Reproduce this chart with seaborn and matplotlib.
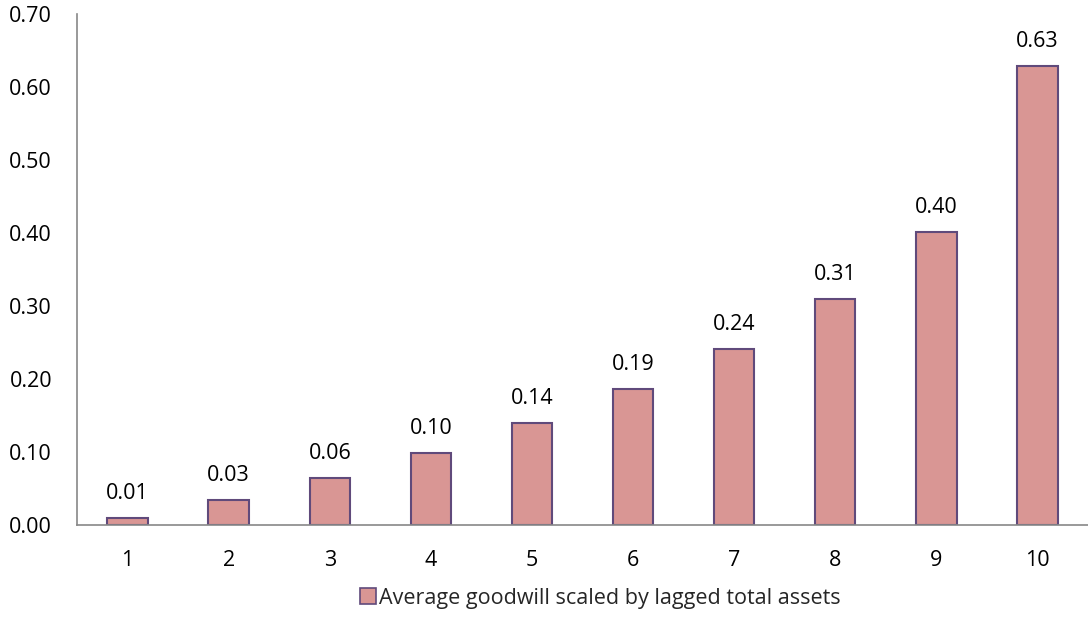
import matplotlib
matplotlib.use("Agg")
import matplotlib.pyplot as plt
import seaborn as sns
import pandas as pd
from matplotlib.patches import Patch

categories = ["1", "2", "3", "4", "5", "6", "7", "8", "9", "10"]
values = [0.01, 0.034, 0.064, 0.099, 0.140, 0.186, 0.241, 0.310, 0.401, 0.629]
labels = ["0.01", "0.03", "0.06", "0.10", "0.14", "0.19", "0.24", "0.31", "0.40", "0.63"]
series_name = "Average goodwill scaled by lagged total assets"
yticks = [0.0, 0.1, 0.2, 0.3, 0.4, 0.5, 0.6, 0.7]

sns.set_theme(style="white")
plt.rcParams['font.family'] = ['Open Sans', 'DejaVu Sans']

fill = "#D99694"
edge = "#604A7B"
fs = 15.5

df = pd.DataFrame({"cat": categories, "val": values})
fig = plt.figure(figsize=(10.88, 6.25), dpi=100)
ax = fig.add_axes([0.0708, 0.16, 0.9292, 0.8176])
sns.barplot(data=df, x="cat", y="val", order=categories, color=fill, width=0.4,
            edgecolor=edge, linewidth=1.5, saturation=1, ax=ax)

for i, (v, t) in enumerate(zip(values, labels)):
    ax.annotate(t, (i, v), xytext=(0, 10), textcoords="offset points",
                ha="center", va="bottom", fontsize=fs, color="black")

ax.set_ylim(0, 0.7)
ax.set_xlim(-0.5, 9.5)
ax.set_yticks(yticks)
ax.set_yticklabels([f"{y:.2f}" for y in yticks], fontsize=fs, color="black")
ax.tick_params(axis="x", labelsize=fs, length=0, pad=18, labelcolor="black")
ax.tick_params(axis="y", length=0, pad=18)
ax.set_xlabel("")
ax.set_ylabel("")
for s in ["top", "right"]:
    ax.spines[s].set_visible(False)
for s in ["left", "bottom"]:
    ax.spines[s].set_color("#888888")
    ax.spines[s].set_linewidth(1.2)

handle = Patch(facecolor=fill, edgecolor=edge, linewidth=1.2)
fig.legend([handle], [series_name], loc="center", bbox_to_anchor=(0.552, 0.043),
           frameon=False, fontsize=fs, handlelength=0.75, handleheight=0.75,
           handletextpad=0.15)

fig.savefig("out.png", dpi=100)
